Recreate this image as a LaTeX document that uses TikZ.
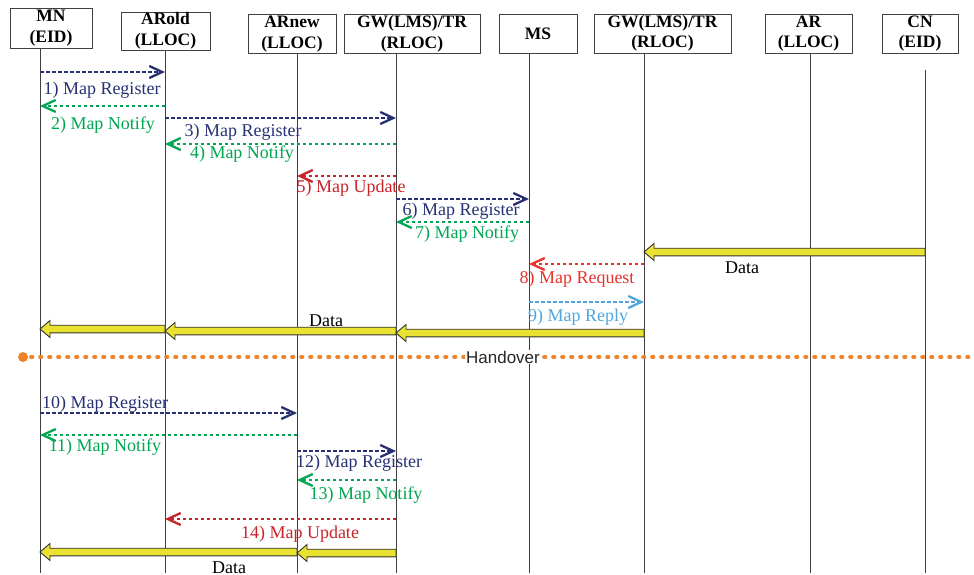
\documentclass[tikz,border=0pt]{standalone}
\usepackage{fontspec}
\setmainfont{Liberation Serif}
\newfontfamily\hofont{Liberation Sans}
\usetikzlibrary{arrows.meta,calc}
\definecolor{regc}{RGB}{38,48,115}
\definecolor{notc}{RGB}{0,166,81}
\definecolor{updc}{RGB}{200,35,40}
\definecolor{reqc}{RGB}{232,50,45}
\definecolor{repc}{RGB}{80,165,220}
\definecolor{hoc}{RGB}{240,130,40}
\definecolor{datac}{RGB}{234,226,48}
\tikzset{
  actor/.style={draw=black!75, line width=0.8pt, inner sep=0pt, minimum height=39pt, align=center,
    font=\fontsize{17.5}{20.5}\selectfont\bfseries},
  life/.style={draw=black!75, line width=0.7pt},
  msg/.style={line width=2.3pt, dash pattern=on 3.5pt off 2.5pt,
    -{Straight Barb[length=13pt,width=12pt,line width=2.3pt]}},
  lbl/.style={anchor=base, inner sep=0pt, font=\fontsize{18}{20}\selectfont},
  dataa/.style={fill=datac, draw=black!80, line width=0.9pt, line join=miter},
  datash/.style={fill=black!30},
  ho/.style={hoc, line width=3.6pt, line cap=round, dash pattern=on 1.5pt off 7.5pt},
}
\newcommand\dataarrow[3]{%
  \fill[datash, shift={(1,1.5)}] ($(#1 |- #3)+(0,3.8)$) -- ($(#2 |- #3)+(10,3.8)$) -- ($(#2 |- #3)+(10,8.5)$)
   -- (#2 |- #3) -- ($(#2 |- #3)+(10,-8.5)$) -- ($(#2 |- #3)+(10,-3.8)$) -- ($(#1 |- #3)+(0,-3.8)$) -- cycle;
  \filldraw[dataa] ($(#1 |- #3)+(0,3.8)$) -- ($(#2 |- #3)+(10,3.8)$) -- ($(#2 |- #3)+(10,8.5)$)
   -- (#2 |- #3) -- ($(#2 |- #3)+(10,-8.5)$) -- ($(#2 |- #3)+(10,-3.8)$) -- ($(#1 |- #3)+(0,-3.8)$) -- cycle;}
\begin{document}
\begin{tikzpicture}[x=1pt,y=-1pt]
\useasboundingbox (0,0) rectangle (974,575);
% actors
\node[actor, minimum width=82pt, minimum height=40pt] (MN) at (51,28) {MN\\(EID)};
\node[actor, minimum width=89pt, minimum height=38pt] (ARold) at (165.5,31) {ARold\\(LLOC)};
\node[actor, minimum width=88pt] (ARnew) at (292,34) {ARnew\\(LLOC)};
\node[actor, minimum width=136pt] (GWa) at (412,34) {GW(LMS)/TR\\(RLOC)};
\node[actor, minimum width=78pt] (MS) at (538,33.5) {MS};
\node[actor, minimum width=137pt] (GWb) at (662.5,33.5) {GW(LMS)/TR\\(RLOC)};
\node[actor, minimum width=87pt] (AR) at (808.5,33.5) {AR\\(LLOC)};
\node[actor, minimum width=76pt] (CN) at (920,33.5) {CN\\(EID)};
% lifeline x positions
\coordinate (xMN) at (40,0);
\coordinate (xARold) at (165,0);
\coordinate (xARnew) at (297,0);
\coordinate (xGWa) at (396,0);
\coordinate (xMS) at (529,0);
\coordinate (xGWb) at (644,0);
\coordinate (xAR) at (810,0);
\coordinate (xCN) at (925,0);
\coordinate (bot) at (0,573);
\coordinate (cntop) at (925,70);
\draw[life] (MN.south -| xMN) -- (xMN |- bot);
\draw[life] (ARold.south -| xARold) -- (xARold |- bot);
\draw[life] (ARnew.south -| xARnew) -- (xARnew |- bot);
\draw[life] (GWa.south -| xGWa) -- (xGWa |- bot);
\draw[life] (MS.south -| xMS) -- (xMS |- bot);
\draw[life] (GWb.south -| xGWb) -- (xGWb |- bot);
\draw[life] (AR.south -| xAR) -- (xAR |- bot);
\draw[life] (cntop) -- (xCN |- bot);
% rows
\coordinate (r1) at (0,72);
\coordinate (r2) at (0,106);
\coordinate (r3) at (0,118);
\coordinate (r4) at (0,144);
\coordinate (r5) at (0,176);
\coordinate (r6) at (0,199);
\coordinate (r7) at (0,222);
\coordinate (rd1) at (0,252);
\coordinate (r8) at (0,264);
\coordinate (r9) at (0,302);
\coordinate (rd2a) at (0,329);
\coordinate (rd2b) at (0,331);
\coordinate (rd2c) at (0,333);
\coordinate (r10) at (0,413);
\coordinate (r11) at (0,435);
\coordinate (r12) at (0,451);
\coordinate (r13) at (0,480);
\coordinate (r14) at (0,519);
\coordinate (rd3a) at (0,552);
\coordinate (rd3b) at (0,553);
% messages
\draw[msg, regc] (xMN |- r1) -- (xARold |- r1);
\node[lbl, regc] (l1) at (102,95) {1) Map Register};
\draw[msg, notc] (xARold |- r2) -- (xMN |- r2);
\node[lbl, notc] (l2) at (103,130) {2) Map Notify};
\draw[msg, regc] (xARold |- r3) -- (xGWa |- r3);
\node[lbl, regc] (l3) at (243,137) {3) Map Register};
\draw[msg, notc] (xGWa |- r4) -- (xARold |- r4);
\node[lbl, notc] (l4) at (242,158) {4) Map Notify};
\draw[msg, updc] (xGWa |- r5) -- (xARnew |- r5);
\node[lbl, updc] (l5) at (351,192) {5) Map Update};
\draw[msg, regc] (xGWa |- r6) -- (xMS |- r6);
\node[lbl, regc] (l6) at (461,215) {6) Map Register};
\draw[msg, notc] (xMS |- r7) -- (xGWa |- r7);
\node[lbl, notc] (l7) at (467,238) {7) Map Notify};
\dataarrow{xCN}{xGWb}{rd1}
\node[lbl] (d1) at (742,273) {Data};
\draw[msg, reqc] (xGWb |- r8) -- (xMS |- r8);
\node[lbl, reqc] (l8) at (577,283) {8) Map Request};
\draw[msg, repc] (xMS |- r9) -- (xGWb |- r9);
\node[lbl, repc] (l9) at (578,321) {9) Map Reply};
\dataarrow{xARold}{xMN}{rd2a}
\dataarrow{xGWa}{xARold}{rd2b}
\dataarrow{xGWb}{xGWa}{rd2c}
\node[lbl] (d2) at (326,326) {Data};
% handover
\coordinate (hos) at (23,357);
\coordinate (hoe) at (976,357);
\draw[ho] ($(hos)+(8,0)$) -- (hoe);
\fill[hoc] (hos) circle (5);
\node[fill=white, inner sep=1pt, font=\hofont\fontsize{17}{19}\selectfont, text=black!85] (hol) at (503,357) {Handover};
% after handover
\draw[msg, regc] (xMN |- r10) -- (xARnew |- r10);
\node[lbl, regc] (l10) at (105,408) {10) Map Register};
\draw[msg, notc] (xARnew |- r11) -- (xMN |- r11);
\node[lbl, notc] (l11) at (105,451) {11) Map Notify};
\draw[msg, regc] (xARnew |- r12) -- (xGWa |- r12);
\node[lbl, regc] (l12) at (359,467) {12) Map Register};
\draw[msg, notc] (xGWa |- r13) -- (xARnew |- r13);
\node[lbl, notc] (l13) at (366,499) {13) Map Notify};
\draw[msg, updc] (xGWa |- r14) -- (xARold |- r14);
\node[lbl, updc] (l14) at (300,538) {14) Map Update};
\dataarrow{xARnew}{xMN}{rd3a}
\dataarrow{xGWa}{xARnew}{rd3b}
\node[lbl] (d3) at (229,573) {Data};
\end{tikzpicture}
\end{document}
